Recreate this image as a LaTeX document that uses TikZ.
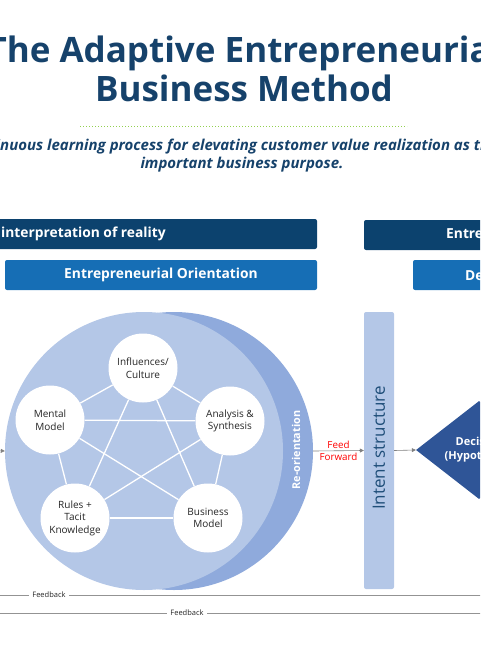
\documentclass[tikz,border=0pt]{standalone}
\usepackage{fontspec}
\setmainfont{Open Sans}
\usetikzlibrary{
    shapes.geometric,
    arrows.meta,
    positioning,
    calc
}
\definecolor{titleblue}{RGB}{22, 66, 107}
\definecolor{bardark}{RGB}{12, 66, 110}
\definecolor{barlight}{RGB}{22, 110, 181}
\definecolor{circlelight}{RGB}{180, 199, 231}
\definecolor{crescentblue}{RGB}{143, 170, 220}
\definecolor{diamondblue}{RGB}{47, 85, 151}
\definecolor{intenttext}{RGB}{31, 78, 121}
\definecolor{dotgreen}{RGB}{146, 208, 80}
\definecolor{feedred}{RGB}{255, 0, 0}

\begin{document}
\begin{tikzpicture}[x=1pt, y=-1pt,
    idea/.style={circle, fill=white, minimum size=69pt, inner sep=0pt, align=center, text=black!85, font=\fontsize{10}{12.5}\selectfont},
    bar/.style={rounded corners=2pt, minimum height=30pt, inner sep=0pt},
    bartext/.style={text=white, inner sep=0pt, font=\bfseries\fontsize{13.8}{16}\selectfont},
    link/.style={white, line width=1.3pt},
    flow/.style={-{Triangle[length=4pt, width=4pt]}, gray, line width=0.6pt},
    fb/.style={gray!85, line width=0.8pt},
    fblabel/.style={fill=white, inner xsep=3pt, inner ysep=1pt, text=black!85, font=\fontsize{7.5}{9}\selectfont}
]
                \useasboundingbox (0,0) rectangle (480,650);
                \clip (0,0) rectangle (480,650);

                % Title
                \node[anchor=base, text=titleblue, font=\bfseries\fontsize{35}{39}\selectfont] (title1) at (244,63) {The Adaptive Entrepreneurial};
                \node[anchor=base, text=titleblue, font=\bfseries\fontsize{35}{39}\selectfont] (title2) at (244,102) {Business Method};
                \draw[dotgreen, line width=1pt, dash pattern=on 1pt off 2pt] (80,127) -- (407,127);
                \node[anchor=base west, inner sep=0pt, text=titleblue, font=\bfseries\itshape\fontsize{15}{17}\selectfont] (sub1) at (0,150) {\llap{conti}nuous learning process for elevating customer value realization as t\rlap{he}};
                \node[anchor=base, inner sep=0pt, text=titleblue, font=\bfseries\itshape\fontsize{15}{17}\selectfont] (sub2) at (242,168) {important business purpose.};

                % Header bars
                \node[bar, fill=bardark, minimum width=337pt] (realitybar) at (148.5,234) {};
                \node[bartext, anchor=west] (realitytext) at (1,234) {interpretation of reality};
                \node[bar, fill=barlight, minimum width=312pt] (orientbar) at (161,275) {};
                \node[bartext] (orienttext) at (orientbar.center) {Entrepreneurial Orientation};
                \node[bar, fill=bardark, minimum width=140pt] (entrebar) at (434,235) {};
                \node[bartext, anchor=west] (entretext) at (446,235) {Entrepreneurial};
                \node[bar, fill=barlight, minimum width=90pt] (decbar) at (458,275) {};
                \node[bartext, anchor=west] (dectext) at (465,275) {Decision};

                % Orientation circle
                \node[circle, fill=crescentblue, minimum size=278pt, inner sep=0pt] (reorient) at (174,451) {};
                \node[circle, fill=circlelight, minimum size=278pt, inner sep=0pt] (orient) at (144,451) {};
                \node[rotate=90, text=white, font=\bfseries\fontsize{10.8}{12}\selectfont] (reorientlabel) at (296,450) {Re-orientation};

                % Elements
                \node[idea] (infl) at (143,368) {Influences/\\Culture};
                \node[idea] (mental) at (50,420) {Mental\\Model};
                \node[idea] (analysis) at (230,421) {Analysis \&\\Synthesis};
                \node[idea] (rules) at (75,518) {Rules +\\Tacit\\Knowledge};
                \node[idea] (business) at (208,518) {Business\\Model};

                % Links
                \foreach \a/\b in {infl/mental, infl/analysis, mental/rules, analysis/business, rules/business,
                                   infl/rules, infl/business, mental/analysis, mental/business, analysis/rules}
                    \draw[link] (\a) -- (\b);

                % Intent and decision
                \node[rectangle, fill=circlelight, minimum width=30pt, minimum height=277pt, rounded corners=2pt] (intent) at (379,450.5) {};
                \node[rotate=90, text=intenttext, font=\fontsize{17}{19}\selectfont] (intentlabel) at (379,448) {Intent structure};
                \node[diamond, fill=diamondblue, minimum width=126pt, minimum height=98pt, inner sep=0pt, align=center, text=white, font=\bfseries\fontsize{11}{14}\selectfont] (decision) at (479,450) {Decision\\(Hypothesis)};

                % Arrows
                \coordinate (inflow) at (-20,450);
                \draw[flow] (inflow) -- (orient.west);
                \draw[flow] (reorient.east) -- node[above, text=feedred, inner sep=2pt, font=\fontsize{9.8}{11}\selectfont] {Feed}
                                               node[below, text=feedred, inner sep=2pt, font=\fontsize{9.8}{11}\selectfont] {Forward} (intent.west);
                \draw[flow] (intent.east) -- (decision.west);

                % Feedback
                \coordinate (fbinA) at (-10,595);
                \coordinate (fboutA) at (490,595);
                \coordinate (fbinB) at (-10,613);
                \coordinate (fboutB) at (490,613);
                \draw[fb] (fboutA) -- node[fblabel, pos=0.882] {Feedback} (fbinA);
                \draw[fb] (fboutB) -- node[fblabel, pos=0.606] {Feedback} (fbinB);
            \end{tikzpicture}
\end{document}
